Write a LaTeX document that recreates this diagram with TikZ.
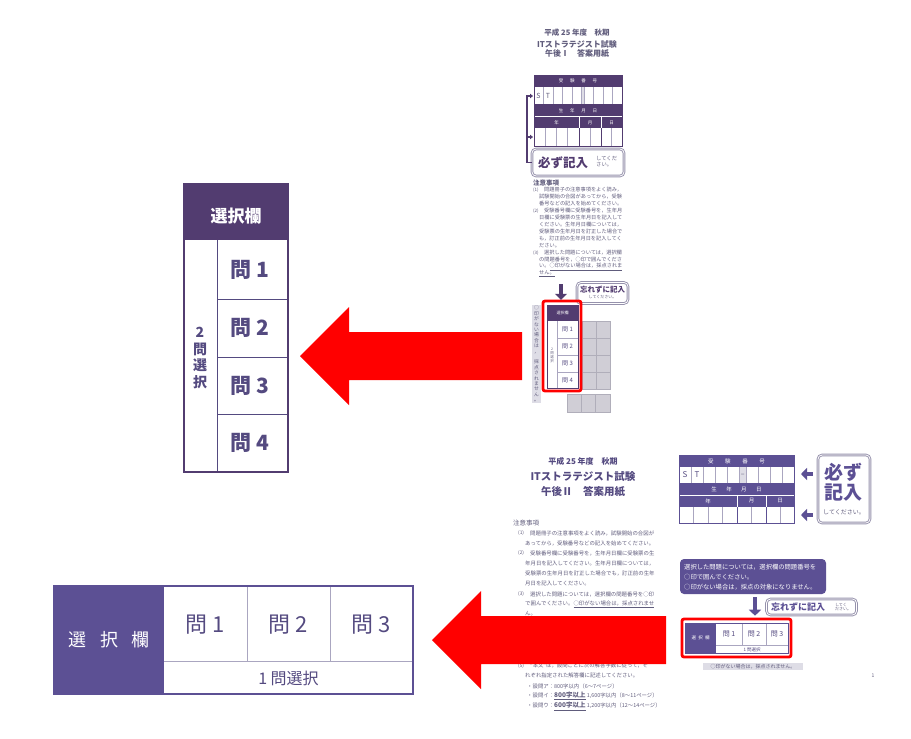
\documentclass[tikz,border=0pt]{standalone}
\usepackage{fontspec}
\setmainfont{Noto Sans CJK JP}
\usetikzlibrary{arrows.meta,calc,positioning}
\definecolor{selpurple}{RGB}{82,60,112}
\definecolor{selviolet}{RGB}{92,80,148}
\definecolor{sheetink}{RGB}{84,74,128}
\definecolor{noteink}{RGB}{96,92,124}
\definecolor{cellline}{RGB}{170,166,192}
\definecolor{greycell}{RGB}{208,206,214}
\definecolor{greyedge}{RGB}{176,174,186}
\definecolor{framegrey}{RGB}{150,146,172}
\definecolor{stripgrey}{RGB}{222,221,230}
\definecolor{markred}{RGB}{255,0,0}
\newcommand{\jpsize}[1]{\fontsize{#1}{#1}\selectfont}
\tikzset{
  tinytext/.style={anchor=west,inner sep=0pt,text=noteink,font=\jpsize{5.2}},
  notetext/.style={anchor=west,inner sep=0pt,text=noteink,font=\jpsize{5.4}},
  gridline/.style={draw=cellline,line width=0.5pt},
  mustbox/.style={draw=framegrey,double=white,double distance=0.8pt,line width=0.9pt,rounded corners=4pt,inner sep=0pt},
  greybox/.style={fill=greycell,draw=greyedge,line width=0.5pt},
  smallarrow/.style={draw=selpurple,line width=4.5pt,-{Triangle[length=6pt,width=12pt]}},
  redmark/.style={draw=markred,line width=2.8pt,rounded corners=2pt},
  bigarrow/.style={fill=markred}
}
\begin{document}
\begin{tikzpicture}[x=1pt,y=-1pt]
\useasboundingbox (0,0) rectangle (911,739);

% Enlarged selection column (afternoon I).
\fill[selpurple] (184,184) rectangle (288,240);
\node[text=white,font=\bfseries\jpsize{17}] (bigHead) at (236,216) {選択欄};
\foreach \y in {299,357,414}
  \draw[sheetink,line width=1pt] (217,\y) -- (288,\y);
\draw[sheetink,line width=1pt] (217,240) -- (217,472);
\foreach \n in {1,...,4}
  \node[text=sheetink,font=\bfseries\jpsize{21}] (bigQ\n) at (250,{270+57.7*(\n-1)}) {問 \n};
\node[text=sheetink,font=\bfseries\fontsize{14}{16.5}\selectfont,align=center] (bigPick) at (200,358) {2\\問\\選\\択};
\draw[selpurple,line width=2pt] (184,184) rectangle (288,472);

% Enlarged selection row (afternoon II).
\fill[selviolet] (54,586) rectangle (164,694);
\node[text=white,font=\jpsize{18}] (wideHead) at (109,640) {選\hspace{0.75em}択\hspace{0.75em}欄};
\draw[gridline,line width=0.8pt] (164,661) -- (413,661);
\foreach \x in {247,330}
  \draw[gridline,line width=0.8pt] (\x,586) -- (\x,661);
\foreach \n [evaluate=\n as \cx using 122.5+83*\n] in {1,2,3}
  \node[text=sheetink,font=\jpsize{22}] (wideQ\n) at (\cx,625) {問 \n};
\node[text=sheetink,font=\jpsize{16}] (widePick) at (288.5,678) {1 問選択};
\draw[selviolet,line width=1.6pt] (54,586) rectangle (413,694);

% Answer sheet, afternoon I.
\node[text=noteink,font=\bfseries\jpsize{7.5}] (titleA1) at (577,33) {平成 25 年度　秋期};
\node[text=noteink,font=\bfseries\jpsize{8}] (titleA2) at (577,44) {ITストラテジスト試験};
\node[text=noteink,font=\bfseries\jpsize{8}] (titleA3) at (577,54) {午後Ⅰ　答案用紙};

% Number and birth date table.
\fill[selpurple] (534,75) rectangle (622,87);
\fill[selpurple] (534,104) rectangle (622,128);
\draw[white,line width=0.4pt] (534,116.5) -- (622,116.5) (579,116.5) -- (579,128) (601,116.5) -- (601,128);
\node[text=white,font=\jpsize{4.5}] (numA) at (578,81) {受\hspace{1.5em}験\hspace{1.5em}番\hspace{1.5em}号};
\node[text=white,font=\jpsize{4.5}] (birthA) at (578,110.5) {生\hspace{1.5em}年\hspace{1.5em}月\hspace{1.5em}日};
\node[text=white,font=\jpsize{4.5}] (yearA) at (556.5,122.5) {年};
\node[text=white,font=\jpsize{4.5}] (monA) at (590,122.5) {月};
\node[text=white,font=\jpsize{4.5}] (dayA) at (611.5,122.5) {日};
\fill[stripgrey] (581,87) rectangle (584,104);
\foreach \x in {543,553,562,572,581,584,593.5,603,612.5}
  \draw[gridline] (\x,87) -- (\x,104);
\foreach \x in {545,556,567,590,611.5}
  \draw[gridline] (\x,128) -- (\x,146);
\foreach \x in {579,601}
  \draw[selpurple,line width=0.6pt] (\x,128) -- (\x,146);
\node[text=noteink,font=\jpsize{7}] (sA) at (538.5,95.5) {S};
\node[text=noteink,font=\jpsize{7}] (tA) at (548,95.5) {T};
\draw[selpurple,line width=0.8pt] (534,75) rectangle (622,146);

% Reminder box and bracket.
\node[mustbox,minimum width=92,minimum height=27] (mustA) at (578,162.5) {};
\node[text=selpurple,font=\bfseries\jpsize{12.5},inner sep=1pt] (mustAword) at (563,163) {必ず記入};
\node[tinytext,align=left,font=\fontsize{5.3}{6.8}\selectfont] (mustAnote) at (596,161.5) {してくだ\\さい。};
\coordinate (stA) at (533,96);
\coordinate (dateA) at (533,137);
\draw[selpurple,line width=1.4pt,-{Triangle[length=3pt,width=4.5pt]}] (mustA.west) -- ++(-4.5,0) |- (stA);
\draw[selpurple,line width=1.4pt,-{Triangle[length=3pt,width=4.5pt]}] ($(mustA.west)+(-4.5,0)$) |- (dateA);

% Notes.
\node[text=noteink,font=\bfseries\jpsize{6.5},anchor=west,inner sep=0pt] (cautionA) at (533,183) {注意事項};
\foreach \i/\m in {1/(1),4/(2),10/(3)}
  \node[tinytext,font=\jpsize{4.5}] (markA\i) at (533,{183+7*\i}) {\m};
\foreach \i/\x/\t in {1/544/問題冊子の注意事項をよく読み，,
    2/539/試験開始の合図があってから，受験,
    3/539/番号などの記入を始めてください。,
    4/544/受験番号欄に受験番号を，生年月,
    5/539/日欄に受験票の生年月日を記入して,
    6/539/ください。生年月日欄については，,
    7/539/受験票の生年月日を訂正した場合で,
    8/539/も，訂正前の生年月日を記入してく,
    9/539/ださい。,
    10/544/選択した問題については，選択欄,
    11/539/の問題番号を，○印で囲んでくださ,
    12/539/い。\underline{○印がない場合は，採点されま},
    13/539/\underline{せん。}}
  \node[tinytext] (noteA\i) at (\x,{183+7*\i}) {\t};

% Selection column.
\fill[stripgrey] (532,305) rectangle (541,403);
\node[text=noteink,font=\fontsize{4.8}{5.4}\selectfont,align=center,inner sep=0pt] (stripA) at (536.5,354) {○\\印\\が\\な\\い\\場\\合\\は\\，\\[5.4pt]採\\点\\さ\\れ\\ま\\せ\\ん\\。};
\node[mustbox,minimum width=51,minimum height=21] (forgetA) at (602.5,293) {};
\node[text=selpurple,font=\bfseries\jpsize{7.5}] (forgetAword) at (602.5,289.5) {忘れずに記入};
\node[text=noteink,font=\jpsize{4}] (forgetAnote) at (602.5,297.5) {してください。};
\node[fill=selpurple,text=white,font=\jpsize{4},minimum width=31,minimum height=16,inner sep=0pt] (selAhead) at (562.5,313) {選択欄};
\foreach \y in {338,355,372}
  \draw[gridline] (557,\y) -- (578,\y);
\draw[gridline] (557,321) -- (557,388);
\foreach \n in {1,...,4}
  \node[text=sheetink,font=\jpsize{6}] (selAq\n) at (567.5,{329.5+17*(\n-1)}) {問 \n};
\node[text=noteink,font=\fontsize{3.5}{4}\selectfont,align=center] (selApick) at (552,355) {2\\問\\選\\択};
\draw[selpurple,line width=0.6pt] (547,305) rectangle (578,388);
\foreach \x in {582,596}
  \foreach \y in {321,338,355,372}
    \draw[greybox] (\x,\y) rectangle ++(14,17);
\foreach \x in {567,581.3,595.6}
  \draw[greybox] (\x,394) rectangle ++(14.3,18);
\draw[redmark] (543,301) rectangle (581,391);
\coordinate (arrowAtop) at (561,284);
\draw[smallarrow,line width=4pt,shorten >=5pt] (arrowAtop) -- (arrowAtop |- selAhead.north);

% Answer sheet, afternoon II.
\node[text=sheetink,font=\bfseries\jpsize{8}] (titleB1) at (583,461) {平成 25 年度　秋期};
\node[text=sheetink,font=\bfseries\jpsize{10.5}] (titleB2) at (583,477) {ITストラテジスト試験};
\node[text=sheetink,font=\bfseries\jpsize{10.5}] (titleB3) at (583,492) {午後Ⅱ　答案用紙};

% Notes.
\node[text=noteink,font=\jpsize{6.5},anchor=west,inner sep=0pt] (cautionB) at (513,523) {注意事項};
\foreach \i/\m in {1/(1),3/(2),7/(3),14/(5)}
  \node[notetext,font=\jpsize{4.8}] (markB\i) at (518,{533+10.2*(\i-1)}) {\m};
\foreach \i/\x/\t in {1/530/問題冊子の注意事項をよく読み，試験開始の合図が,
    2/525/あってから，受験番号などの記入を始めてください。,
    3/530/受験番号欄に受験番号を，生年月日欄に受験票の生,
    4/525/年月日を記入してください。生年月日欄については，,
    5/525/受験票の生年月日を訂正した場合でも，訂正前の生年,
    6/525/月日を記入してください。,
    7/530/選択した問題については，選択欄の問題番号を○印,
    8/525/で囲んでください。\underline{○印がない場合は，採点されませ},
    9/525/\underline{ん。},
    14/530/“本文”は，設問ごとに次の解答字数に従って，そ,
    15/525/れぞれ指定された解答欄に記述してください。,
    16/527/・設問ア：800字以内（6〜7ページ）,
    17/527/・設問イ：{\bfseries\jpsize{6.5}\underline{800字以上}} 1{,}600字以内（8〜11ページ）,
    18/527/・設問ウ：{\bfseries\jpsize{6.5}\underline{600字以上}} 1{,}200字以内（12〜14ページ）}
  \node[notetext] (noteB\i) at (\x,{533+10.2*(\i-1)}) {\t};

% Number and birth date table.
\fill[selviolet] (679,455) rectangle (794,467);
\fill[selviolet] (679,483) rectangle (794,507);
\draw[white,line width=0.5pt] (679,495) -- (794,495) (737,495) -- (737,507) (766,495) -- (766,507);
\node[text=white,font=\jpsize{5.5}] (numB) at (736.5,461) {受\hspace{2.1em}験\hspace{2.1em}番\hspace{2.1em}号};
\node[text=white,font=\jpsize{5.5}] (birthB) at (736.5,489) {生\hspace{1.7em}年\hspace{1.7em}月\hspace{1.7em}日};
\node[text=white,font=\jpsize{5.5}] (yearB) at (708,501) {年};
\node[text=white,font=\jpsize{5.5}] (monB) at (751.5,501) {月};
\node[text=white,font=\jpsize{5.5}] (dayB) at (780,501) {日};
\fill[stripgrey] (739,467) rectangle (746.7,483);
\node[text=noteink,font=\jpsize{7}] (dashB) at (742.8,475) {–};
\foreach \x in {691,703.3,715.7,727.3,739,746.7,758.3,770,782.3}
  \draw[gridline] (\x,467) -- (\x,483);
\foreach \x in {693.4,707.8,722.2,751,779.8}
  \draw[gridline] (\x,507) -- (\x,523);
\foreach \x in {737,766}
  \draw[selviolet,line width=0.6pt] (\x,507) -- (\x,523);
\node[text=sheetink,font=\jpsize{8}] (sB) at (685,475) {S};
\node[text=sheetink,font=\jpsize{8}] (tB) at (697,475) {T};
\draw[selviolet,line width=0.8pt] (679,455) rectangle (794,523);

% Reminder box and arrows.
\node[mustbox,minimum width=52,minimum height=68] (mustB) at (844,489) {};
\node[text=selviolet,font=\bfseries\jpsize{19}] (mustBw1) at (843.5,472.5) {必ず};
\node[text=selviolet,font=\bfseries\jpsize{19}] (mustBw2) at (843.5,493) {記入};
\node[text=noteink,font=\jpsize{6}] (mustBnote) at (844,512) {してください。};
\coordinate (stB) at (801,474);
\coordinate (dateB) at (801,515);
\draw[smallarrow,draw=selviolet,shorten <=5pt] (mustB.west |- stB) -- (stB);
\draw[smallarrow,draw=selviolet,shorten <=5pt] (mustB.west |- dateB) -- (dateB);

% Selection row.
\node[fill=selviolet,rounded corners=4pt,minimum width=146,minimum height=35,inner sep=0pt] (noticeB) at (753,576.5) {};
\node[anchor=west,inner sep=0pt,text=white,font=\fontsize{6.3}{9.8}\selectfont,align=left] (noticeBtext) at (684,577) {選択した問題については，選択欄の問題番号を\\○印で囲んでください。\\○印がない場合は，採点の対象になりません。};
\node[mustbox,minimum width=90,minimum height=16] (forgetB) at (811.5,607) {};
\node[text=selviolet,font=\bfseries\jpsize{9},inner sep=1pt] (forgetBword) at (798,607) {忘れずに記入};
\node[text=noteink,font=\fontsize{4}{4.8}\selectfont,align=left,inner sep=1pt] (forgetBnote) at (843,607) {してく\\ださい。};
\fill[selviolet] (685,623) rectangle (716,653);
\node[text=white,font=\jpsize{4.5}] (selBhead) at (700.5,638) {選\hspace{0.5em}択\hspace{0.5em}欄};
\draw[gridline] (716,645.5) -- (788,645.5);
\foreach \x in {742,766}
  \draw[gridline] (\x,623) -- (\x,645.5);
\foreach \n/\cx in {1/729,2/754,3/777}
  \node[text=sheetink,font=\jpsize{7}] (selBq\n) at (\cx,634) {問 \n};
\node[text=sheetink,font=\jpsize{4.5}] (selBpick) at (752,649.5) {1 問選択};
\node[draw=selviolet,line width=0.6pt,minimum width=103,minimum height=30,inner sep=0pt] (selBframe) at (736.5,638) {};
\draw[redmark] (682,619) rectangle (791,657);
\coordinate (arrowBtop) at (755,597);
\draw[smallarrow,draw=selviolet,shorten >=7pt] (arrowBtop) -- (arrowBtop |- selBframe.north);
\fill[stripgrey] (703,663) rectangle (803,670);
\node[text=noteink,font=\jpsize{5}] (stripB) at (753,666.5) {○印がない場合は，採点されません。};
\node[text=noteink,font=\jpsize{5}] (pageB) at (873,676) {1};

% Pointing arrows.
\fill[bigarrow] (300,356) -- (349,307) -- (349,332) -- (522,332) -- (522,380) -- (349,380) -- (349,405) -- cycle;
\fill[bigarrow] (432,640) -- (481,591) -- (481,616) -- (666,616) -- (666,664) -- (481,664) -- (481,689) -- cycle;
\end{tikzpicture}
\end{document}
